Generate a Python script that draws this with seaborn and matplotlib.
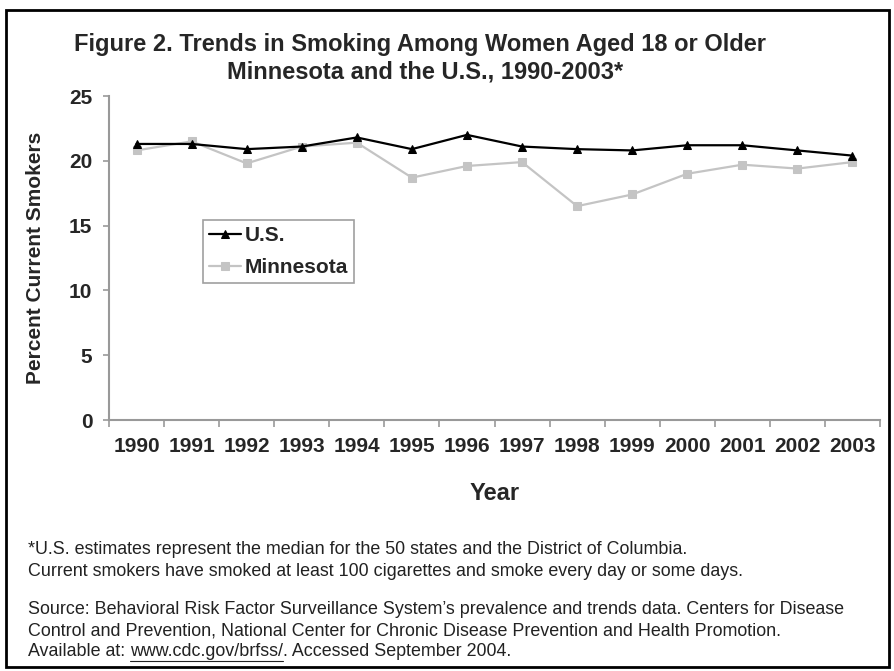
import matplotlib
matplotlib.use("Agg")
import matplotlib.pyplot as plt
import seaborn as sns
import pandas as pd
import numpy as np
from matplotlib.patches import Rectangle

years = ["1990", "1991", "1992", "1993", "1994", "1995", "1996",
         "1997", "1998", "1999", "2000", "2001", "2002", "2003"]
us = [21.3, 21.3, 20.9, 21.1, 21.8, 20.9, 22.0, 21.1, 20.9, 20.8, 21.2, 21.2, 20.8, 20.4]
mn = [20.8, 21.5, 19.8, 21.1, 21.4, 18.7, 19.6, 19.9, 16.5, 17.4, 19.0, 19.7, 19.4, 19.9]
yticks = [0, 5, 10, 15, 20, 25]

sns.set_style("white")
plt.rcParams['font.family'] = ['Liberation Sans', 'DejaVu Sans']

fig = plt.figure(figsize=(8.95, 6.71), dpi=100)
ax = fig.add_axes([109/895, 1-420/671, (880-109)/895, (420-96)/671])

df_us = pd.DataFrame({"Year": years, "Value": us})
df_mn = pd.DataFrame({"Year": years, "Value": mn})

sns.lineplot(data=df_mn, x="Year", y="Value", ax=ax, color="#c4c4c4", lw=1.6,
             marker="s", markersize=6, markeredgecolor="#c4c4c4", label="Minnesota", sort=False)
sns.lineplot(data=df_us, x="Year", y="Value", ax=ax, color="black", lw=1.6,
             marker="^", markersize=6, markeredgecolor="black", label="U.S.", sort=False)

ax.set_xlim(-0.5, len(years) - 0.5)
ax.set_ylim(0, 25)
ax.set_yticks(yticks)
ax.set_yticklabels([str(t) for t in yticks], fontsize=15, fontweight="bold")
ax.set_xticks(np.arange(len(years)))
ax.set_xticklabels(years, fontsize=15, fontweight="bold")
ax.set_xticks(np.arange(len(years) + 1) - 0.5, minor=True)
ax.tick_params(axis="x", which="both", bottom=True)
ax.tick_params(axis="x", which="major", length=0, pad=12)
ax.tick_params(axis="x", which="minor", length=5, width=1.2, color="#999999", direction="out")
ax.tick_params(axis="y", length=4, width=1.2, color="#999999", direction="out", left=True, pad=8)

for s in ["top", "right"]:
    ax.spines[s].set_visible(False)
for s in ["left", "bottom"]:
    ax.spines[s].set_color("#999999")
    ax.spines[s].set_linewidth(1.5)

ax.set_xlabel("Year", fontsize=17, fontweight="bold", labelpad=19)
ax.set_ylabel("Percent Current Smokers", fontsize=15, fontweight="bold", labelpad=17)

handles, labels = ax.get_legend_handles_labels()
leg = ax.legend(handles[::-1], labels[::-1], loc="upper left",
                bbox_to_anchor=((203-109)/771, 1-(220-96)/324),
                frameon=True, fancybox=False, prop={"weight": "bold", "size": 15},
                handlelength=1.5, handletextpad=0.2, borderpad=0.3, labelspacing=0.62,
                borderaxespad=0)
leg.get_frame().set_edgecolor("#888888")
leg.get_frame().set_linewidth(1.2)

fig.text(420/895, 1-45/671, "Figure 2. Trends in Smoking Among Women Aged 18 or Older",
         ha="center", va="center", fontsize=17, fontweight="bold")
fig.text(425/895, 1-72/671, "Minnesota and the U.S., 1990-2003*",
         ha="center", va="center", fontsize=17, fontweight="bold")

fs = 12.9
notes = [
    (550, "*U.S. estimates represent the median for the 50 states and the District of Columbia."),
    (571, "Current smokers have smoked at least 100 cigarettes and smoke every day or some days."),
    (610, "Source: Behavioral Risk Factor Surveillance System\u2019s prevalence and trends data. Centers for Disease"),
    (631, "Control and Prevention, National Center for Chronic Disease Prevention and Health Promotion."),
]
for y, t in notes:
    fig.text(28/895, 1-y/671, t, ha="left", va="center", fontsize=fs, color="#222222")
t1 = fig.text(28/895, 1-652/671, "Available at: ", ha="left", va="center", fontsize=fs, color="#222222")
fig.canvas.draw()
r = fig.canvas.get_renderer()
bb = t1.get_window_extent(r)
t2 = fig.text(bb.x1/895, 1-652/671, "www.cdc.gov/brfss/", ha="left", va="center",
              fontsize=fs, color="#222222")
bb2 = t2.get_window_extent(r)
fig.add_artist(plt.Line2D([bb2.x0/895, bb2.x1/895], [bb2.y0/671 - 0.0005, bb2.y0/671 - 0.0005],
                          color="#222222", lw=0.8, transform=fig.transFigure))
fig.text(bb2.x1/895, 1-652/671, ". Accessed September 2004.", ha="left", va="center",
         fontsize=fs, color="#222222")

fig.add_artist(Rectangle((6/895, 4/671), (889-6)/895, (661-4)/671, transform=fig.transFigure,
                         fill=False, edgecolor="black", lw=2))

fig.savefig("out.png", dpi=100)
